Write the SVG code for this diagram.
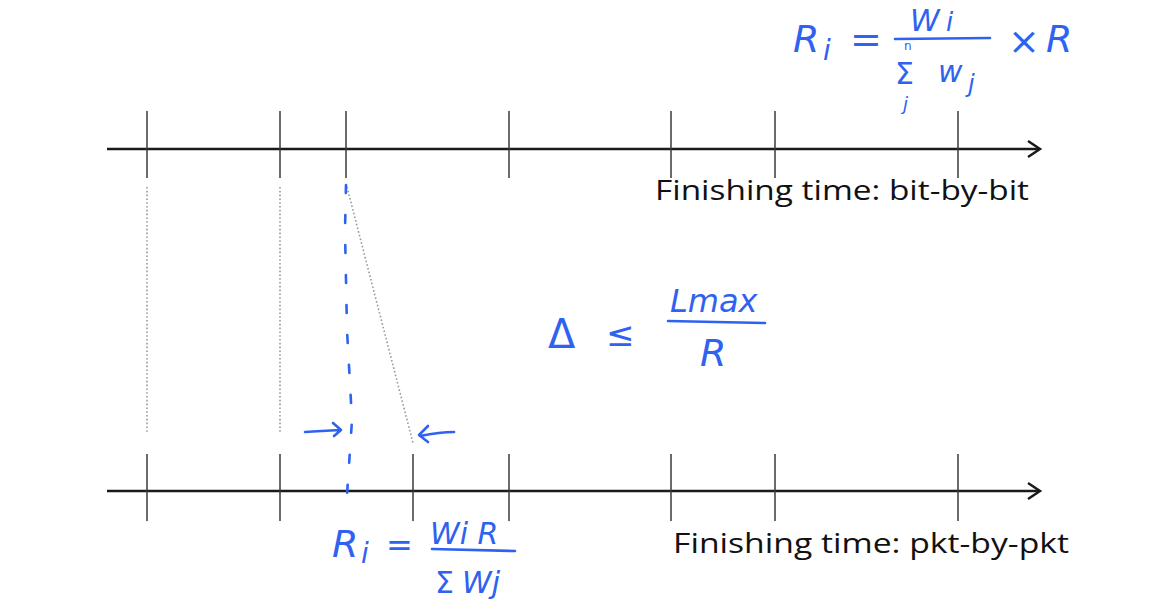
<svg xmlns="http://www.w3.org/2000/svg" width="1161" height="602" viewBox="0 0 1161 602">
<style>
.axis{stroke:#1a1a1a;stroke-width:2.5;fill:none}
.tick{stroke:#3a3a3a;stroke-width:1.5}
.dot{stroke:#9a9a9a;stroke-width:1.6;stroke-dasharray:1.6 2.2;fill:none}
.ink{stroke:#2f62f0;stroke-width:2.6;fill:none;stroke-linecap:round;stroke-linejoin:round}
.lbl{font-family:"Open Sans","Liberation Sans",sans-serif;font-size:28px;fill:#111}
.hw{font-family:"DejaVu Sans","Liberation Sans",sans-serif;font-style:italic;fill:#2f62f0}
.up{font-style:normal}
</style>
<rect width="1161" height="602" fill="#fff"/>
<g id="top-axis">
<line class="axis" x1="107" y1="149" x2="1038" y2="149"/>
<path class="axis" d="M1028 141 L1040 149 L1028 157"/>
<g class="tick">
<line x1="147" y1="111" x2="147" y2="178"/><line x1="280" y1="111" x2="280" y2="178"/><line x1="346" y1="111" x2="346" y2="178"/><line x1="509" y1="111" x2="509" y2="178"/><line x1="671" y1="111" x2="671" y2="178"/><line x1="775" y1="111" x2="775" y2="178"/><line x1="958" y1="111" x2="958" y2="178"/>
</g>
<text class="lbl" x="655" y="200" textLength="374" lengthAdjust="spacingAndGlyphs">Finishing time: bit-by-bit</text>
</g>
<g id="bottom-axis">
<line class="axis" x1="107" y1="491" x2="1038" y2="491"/>
<path class="axis" d="M1028 483 L1040 491 L1028 499"/>
<g class="tick">
<line x1="147" y1="454" x2="147" y2="521"/><line x1="280" y1="454" x2="280" y2="521"/><line x1="413" y1="454" x2="413" y2="521"/><line x1="509" y1="454" x2="509" y2="521"/><line x1="671" y1="454" x2="671" y2="521"/><line x1="775" y1="454" x2="775" y2="521"/><line x1="958" y1="454" x2="958" y2="521"/>
</g>
<text class="lbl" x="673" y="553" textLength="396" lengthAdjust="spacingAndGlyphs">Finishing time: pkt-by-pkt</text>
</g>
<g id="connectors">
<line class="dot" x1="147" y1="187" x2="147" y2="433"/>
<line class="dot" x1="280" y1="187" x2="280" y2="433"/>
<line class="dot" x1="347" y1="187" x2="413" y2="443"/>
<path class="ink" stroke-dasharray="8 22" d="M346 185 L345 230 L347 330 L352 420 L347 495"/>
<path class="ink" d="M305 432 Q320 431 341 430 M333 423 L341 430 L334 436"/>
<path class="ink" d="M454 432 Q440 432 420 436 M428 426 L419 435 L428 442"/>
</g>
<g id="formula-top">
<text class="hw" x="793" y="52" font-size="38">R</text>
<text class="hw" x="823" y="60" font-size="28">i</text>
<text class="hw up" x="850" y="52" font-size="38">=</text>
<text class="hw" x="910" y="31" font-size="30">W</text><text class="hw" x="946" y="31" font-size="26">i</text>
<line class="ink" x1="895" y1="39" x2="990" y2="38"/>
<text class="hw up" x="904" y="50" font-size="12">n</text>
<text class="hw up" x="895" y="84" font-size="30">Σ</text>
<text class="hw" x="903" y="110" font-size="18">j</text>
<text class="hw" x="938" y="82" font-size="30">w</text><text class="hw" x="968" y="92" font-size="24">j</text>
<text class="hw up" x="1008" y="54" font-size="38">×</text>
<text class="hw" x="1046" y="52" font-size="38">R</text>
</g>
<g id="delta-formula">
<text class="hw up" x="548" y="348" font-size="40">Δ</text>
<text class="hw up" x="606" y="346" font-size="34">≤</text>
<text class="hw" x="670" y="312" font-size="32">Lmax</text>
<line class="ink" x1="668" y1="321" x2="765" y2="323"/>
<text class="hw" x="700" y="366" font-size="38">R</text>
</g>
<g id="formula-bottom">
<text class="hw" x="332" y="557" font-size="38">R</text>
<text class="hw" x="361" y="563" font-size="28">i</text>
<text class="hw up" x="386" y="556" font-size="32">=</text>
<text class="hw" x="430" y="544" font-size="30">Wi R</text>
<line class="ink" x1="432" y1="549" x2="515" y2="551"/>
<text class="hw up" x="435" y="593" font-size="30">Σ</text>
<text class="hw" x="462" y="593" font-size="30">Wj</text>
</g>
</svg>
